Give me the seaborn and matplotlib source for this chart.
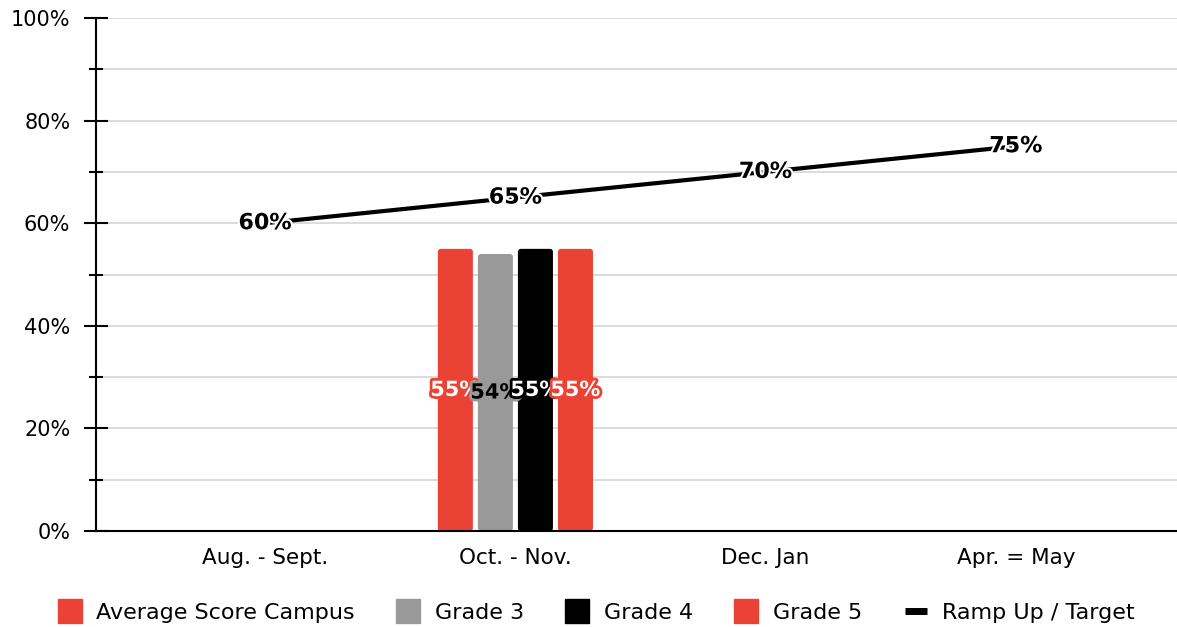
import matplotlib
matplotlib.use("Agg")
import matplotlib.pyplot as plt
import matplotlib.patheffects as pe
from matplotlib.lines import Line2D
from matplotlib.patches import FancyBboxPatch
from matplotlib.ticker import MultipleLocator, PercentFormatter
import numpy as np
import pandas as pd
import seaborn as sns

# data
periods = ["Aug. - Sept.", "Oct. - Nov.", "Dec. Jan", "Apr. = May"]
series = ["Average Score Campus", "Grade 3", "Grade 4", "Grade 5"]
bar_period = "Oct. - Nov."
bar_values = [55, 54, 55, 55]
target_name = "Ramp Up / Target"
target_values = [60, 65, 70, 75]

colors = {"Average Score Campus": "#ea4335", "Grade 3": "#999999",
          "Grade 4": "#000000", "Grade 5": "#ea4335"}
label_fg = {"Average Score Campus": "white", "Grade 3": "black",
            "Grade 4": "white", "Grade 5": "white"}

sns.set_style("white")
plt.rcParams["font.family"] = ["DejaVu Sans"]
plt.rcParams["text.color"] = "black"
plt.rcParams["xtick.color"] = "black"
plt.rcParams["ytick.color"] = "black"

df = pd.DataFrame({"period": [bar_period] * len(series),
                   "series": series, "value": bar_values})

fig = plt.figure(figsize=(11.77, 6.27), dpi=100)
ax = fig.add_axes([0.0816, 0.1531, 0.9184, 0.8182])

sns.barplot(data=df, x="period", y="value", hue="series", order=periods,
            hue_order=series, palette=colors, width=0.64, gap=0.125,
            saturation=1, legend=False, ax=ax)

ax.set_xlim(-0.676, 3.644)
ax.set_ylim(0, 100)

# round the bar tops a little and label the bars in the middle
for cont, name in zip(ax.containers, series):
    for bar in cont:
        h = bar.get_height()
        if np.isnan(h):
            continue
        x0, w = bar.get_x(), bar.get_width()
        bar.set_visible(False)
        ax.add_patch(FancyBboxPatch((x0, 0), w, h,
                                    boxstyle="round,pad=0,rounding_size=0.012",
                                    mutation_aspect=48, facecolor=colors[name],
                                    edgecolor="none", zorder=2))
        ax.text(x0 + w / 2, h / 2, f"{h:.0f}%",
                ha="center", va="center", fontsize=15, fontweight="bold",
                color=label_fg[name], zorder=5,
                path_effects=[pe.withStroke(linewidth=4, foreground=colors[name])])

# target line
xpos = np.arange(len(periods))
sns.lineplot(x=xpos, y=target_values, color="black", linewidth=3,
             ax=ax, zorder=4)
for x, v in zip(xpos, target_values):
    ax.text(x, v, f"{v}%", ha="center", va="center", fontsize=16,
            fontweight="bold", color="black", zorder=6,
            path_effects=[pe.withStroke(linewidth=3, foreground="white")])

ax.yaxis.set_major_locator(MultipleLocator(20))
ax.yaxis.set_minor_locator(MultipleLocator(10))
ax.yaxis.set_major_formatter(PercentFormatter(decimals=0))
ax.grid(axis="y", which="both", color="#d9d9d9", linewidth=1.3)
ax.set_axisbelow(True)
ax.tick_params(axis="y", which="major", direction="inout", length=17,
               width=1.5, labelsize=15, pad=10, left=True)
ax.tick_params(axis="y", which="minor", direction="inout", length=9.5,
               width=1.5, left=True)
ax.tick_params(axis="x", length=0, labelsize=15.5, pad=12)
ax.set_xlabel("")
ax.set_ylabel("")
for s in ["top", "right"]:
    ax.spines[s].set_visible(False)
ax.spines["left"].set_color("black")
ax.spines["left"].set_linewidth(1.5)
ax.spines["bottom"].set_color("black")
ax.spines["bottom"].set_linewidth(1.5)
ax.spines["bottom"].set_zorder(3)

handles = [Line2D([], [], marker="s", linestyle="none", markersize=17,
                  markerfacecolor=colors[s], markeredgecolor=colors[s])
           for s in series]
handles.append(Line2D([], [], color="black", linewidth=5,
                      solid_capstyle="butt"))
labels = series + [target_name]
fig.legend(handles, labels, loc="lower center", bbox_to_anchor=(0.507, -0.025),
           ncol=5, frameon=False, fontsize=16, handlelength=1.0,
           handletextpad=0.7, columnspacing=1.9)

fig.savefig("out.png", dpi=100)
